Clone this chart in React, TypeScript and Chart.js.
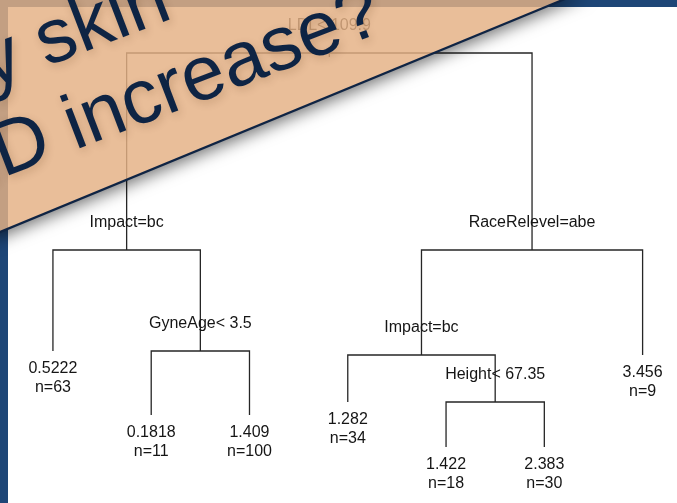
import React, { useEffect, useRef } from "react";
import { Chart, registerables } from "chart.js";

Chart.register(...registerables);

// rpart-style node table (node ids follow rpart numbering: children of k are 2k and 2k+1)
const nodeIds = [1, 2, 4, 5, 10, 11, 3, 6, 12, 13, 26, 27, 7];
const nodeSplits = ["LDL< 109.9", "Impact=bc", "", "GyneAge< 3.5", "", "", "RaceRelevel=abe", "Impact=bc", "", "Height< 67.35", "", "", ""];
const nodeMeans = [null, null, 0.5222, null, 0.1818, 1.409, null, null, 1.282, null, 1.422, 2.383, 3.456];
const nodeCounts = [265, 174, 63, 111, 11, 100, 91, 82, 34, 48, 18, 30, 9];
// plotted node heights (deviance-scaled, as drawn by plot.rpart)
const nodeHeights = [4.07, 2.1, 1.09, 1.09, 0.45, 0.45, 2.1, 1.05, 0.58, 0.58, 0.13, 0.13, 1.05];

const bannerLines = ["Does my skin", "BMD increase?"];

const W = 677;
const H = 503;

function buildTree() {
  const idx = new Map<number, number>();
  nodeIds.forEach((id, i) => idx.set(id, i));
  const xs = new Map<number, number>();
  let leaf = 0;
  const visit = (id: number) => {
    const l = 2 * id, r = 2 * id + 1;
    if (idx.has(l) && idx.has(r)) {
      visit(l);
      visit(r);
      xs.set(id, ((xs.get(l) as number) + (xs.get(r) as number)) / 2);
    } else {
      leaf += 1;
      xs.set(id, leaf);
    }
  };
  visit(1);
  const nodes = nodeIds.map((id, i) => ({
    id,
    x: xs.get(id) as number,
    y: nodeHeights[i],
    split: nodeSplits[i],
    mean: nodeMeans[i],
    n: nodeCounts[i],
    leaf: !(idx.has(2 * id) && idx.has(2 * id + 1)),
  }));
  const byId = new Map<number, any>();
  nodes.forEach((n) => byId.set(n.id, n));
  return { nodes, byId };
}

export default function App() {
  const ref = useRef<HTMLCanvasElement | null>(null);

  useEffect(() => {
    const canvas = ref.current;
    if (!canvas) return;
    const { nodes, byId } = buildTree();

    const lineColor = "#262626";
    const datasets: any[] = nodes
      .filter((n) => !n.leaf)
      .map((n) => {
        const l = byId.get(2 * n.id);
        const r = byId.get(2 * n.id + 1);
        return {
          data: [
            { x: l.x, y: l.y },
            { x: l.x, y: n.y },
            { x: r.x, y: n.y },
            { x: r.x, y: r.y },
          ],
          showLine: true,
          borderColor: lineColor,
          borderWidth: 1.3,
          pointRadius: 0,
          tension: 0,
          fill: false,
        };
      });

    const bgPlugin = {
      id: "bg",
      beforeDraw(chart: any) {
        const ctx = chart.ctx;
        ctx.save();
        ctx.fillStyle = "#ffffff";
        ctx.fillRect(0, 0, W, H);
        ctx.fillStyle = "#1e4677";
        ctx.fillRect(0, 0, W, 7);
        ctx.fillRect(0, 0, 8, H);
        ctx.restore();
      },
    };

    const labelPlugin = {
      id: "labels",
      afterDatasetsDraw(chart: any) {
        const ctx = chart.ctx;
        const xs = chart.scales.x;
        const ys = chart.scales.y;
        ctx.save();
        // root stub
        const root = byId.get(1);
        const rx = xs.getPixelForValue(root.x);
        const ry = ys.getPixelForValue(root.y);
        ctx.strokeStyle = lineColor;
        ctx.lineWidth = 1.3;
        ctx.beginPath();
        ctx.moveTo(rx, ry - 6);
        ctx.lineTo(rx, ry + 4);
        ctx.stroke();

        ctx.fillStyle = "#151515";
        ctx.font = '16px "Liberation Sans", Arial, sans-serif';
        ctx.textAlign = "center";
        ctx.textBaseline = "middle";
        nodes.forEach((n) => {
          const px = xs.getPixelForValue(n.x);
          const py = ys.getPixelForValue(n.y);
          if (!n.leaf) {
            ctx.fillText(n.split, px, py - 27);
          } else {
            ctx.fillText((n.mean as number).toPrecision(4), px, py + 18);
            ctx.fillText("n=" + n.n, px, py + 37);
          }
        });
        ctx.restore();
      },
    };

    const bannerPlugin = {
      id: "banner",
      afterDraw(chart: any) {
        const ctx = chart.ctx;
        const slope = 0.4125;
        const y0 = 232;
        const xEnd = (y0 + 10) / slope;
        // shadow below the edge
        ctx.save();
        ctx.beginPath();
        ctx.moveTo(-10, y0 + 10 * slope);
        ctx.lineTo(xEnd, -10);
        ctx.lineTo(W + 20, -10);
        ctx.lineTo(W + 20, H + 20);
        ctx.lineTo(-10, H + 20);
        ctx.closePath();
        ctx.clip();
        ctx.shadowColor = "rgba(0,0,0,0.55)";
        ctx.shadowBlur = 16;
        ctx.shadowOffsetX = 1;
        ctx.shadowOffsetY = 5;
        ctx.fillStyle = "#e4b184";
        ctx.beginPath();
        ctx.moveTo(-10, -10);
        ctx.lineTo(xEnd, -10);
        ctx.lineTo(-10, y0 + 10 * slope);
        ctx.closePath();
        ctx.fill();
        ctx.restore();

        // banner fill
        ctx.save();
        ctx.fillStyle = "rgba(228,177,132,0.83)";
        ctx.beginPath();
        ctx.moveTo(-10, -10);
        ctx.lineTo(xEnd, -10);
        ctx.lineTo(-10, y0 + 10 * slope);
        ctx.closePath();
        ctx.fill();
        // edge
        ctx.strokeStyle = "#0f2444";
        ctx.lineWidth = 2.2;
        ctx.beginPath();
        ctx.moveTo(-10, y0 + 10 * slope);
        ctx.lineTo(xEnd, -10);
        ctx.stroke();
        ctx.restore();

        // banner text
        ctx.save();
        ctx.translate(75.1, 149.9);
        ctx.rotate((-21 * Math.PI) / 180);
        ctx.font = '77px "Liberation Sans", Arial, sans-serif';
        ctx.fillStyle = "#0e2444";
        ctx.textAlign = "left";
        ctx.textBaseline = "alphabetic";
        ctx.shadowColor = "rgba(80,40,10,0.2)";
        ctx.shadowBlur = 8;
        ctx.shadowOffsetX = 2;
        ctx.shadowOffsetY = 3;
        const pre1 = bannerLines[0].slice(0, bannerLines[0].lastIndexOf(" ") + 1);
        const pre2 = bannerLines[1].slice(0, bannerLines[1].lastIndexOf(" ") + 1);
        ctx.fillText(bannerLines[0], 3 - ctx.measureText(pre1).width, -88);
        ctx.fillText(bannerLines[1], -ctx.measureText(pre2).width, 0);
        ctx.restore();
      },
    };

    const chart = new Chart(canvas, {
      type: "scatter",
      data: { datasets },
      options: {
        responsive: false,
        maintainAspectRatio: false,
        animation: false,
        devicePixelRatio: 1,
        layout: { padding: 0 },
        plugins: { legend: { display: false }, tooltip: { enabled: false } },
        scales: {
          x: { type: "linear", min: 0.4614, max: 7.35, display: false },
          y: { type: "linear", min: -0.43, max: 4.6, display: false },
        },
      },
      plugins: [bgPlugin, labelPlugin, bannerPlugin],
    } as any);

    return () => chart.destroy();
  }, []);

  return (
    <div style={{ position: "fixed", left: 0, top: 0, width: W, height: H }}>
      <canvas ref={ref} width={W} height={H} style={{ width: W, height: H, display: "block" }} />
    </div>
  );
}
